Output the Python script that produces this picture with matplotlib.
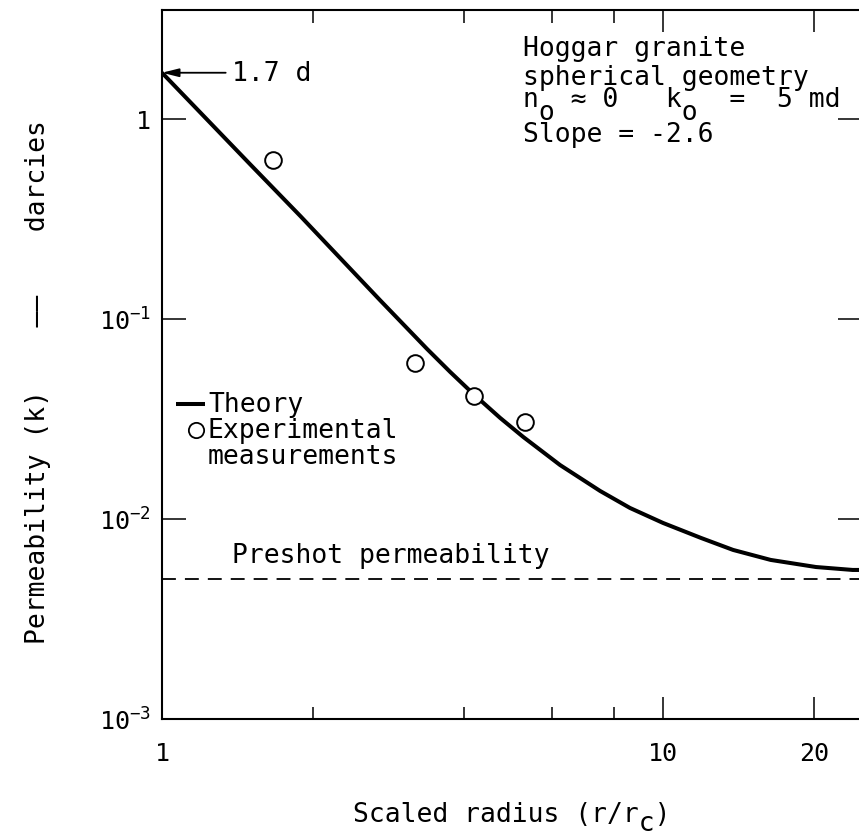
import matplotlib
matplotlib.use('Agg')
import matplotlib.pyplot as plt
from matplotlib.ticker import FixedLocator, FixedFormatter, NullFormatter, NullLocator

plt.rcParams['font.family'] = ['DejaVu Sans Mono', 'DejaVu Sans']
plt.rcParams['mathtext.default'] = 'regular'
plt.rcParams['lines.scale_dashes'] = False

# ---- data ----
theory_r = [1.0, 1.5, 1.89, 2.72, 3.38, 3.76, 4.18, 4.73, 5.26, 6.23, 7.49, 8.59,
            10.0, 11.9, 13.8, 16.4, 20.2, 23.9, 25.0]
theory_k = [1.70, 0.592, 0.326, 0.1245, 0.0708, 0.0543, 0.0422, 0.0320, 0.0257, 0.0186,
            0.0138, 0.01135, 0.00955, 0.00804, 0.00700, 0.00624, 0.00575, 0.00556, 0.00556]
exp_r = [1.666, 3.2, 4.2, 5.3]
exp_k = [0.624, 0.0603, 0.0412, 0.0305]
preshot_k = 0.005
peak_k = 1.7
x_major = [1, 10, 20]
x_major_labels = ['1', '10', '20']
x_minor = [2, 4, 6, 8]
y_major = [1e-3, 1e-2, 1e-1, 1]
y_major_labels = [r'$10^{-3}$', r'$10^{-2}$', r'$10^{-1}$', '1']

W, H = 859, 837
fig = plt.figure(figsize=(W / 100, H / 100), dpi=100)
left_px, right_px, top_px, bottom_px = 162, 862.4, 11, 720
ax = fig.add_axes([left_px / W, 1 - bottom_px / H, (right_px - left_px) / W, (bottom_px - top_px) / H])
ax.set_xscale('log')
ax.set_yscale('log')
ax.set_xlim(1, 25)
ax.set_ylim(1e-3, 3.5)

for s in ax.spines.values():
    s.set_linewidth(1.5)

ax.plot(theory_r, theory_k, color='black', lw=2.9, solid_capstyle='butt', solid_joinstyle='round', zorder=3)
ax.plot(exp_r, exp_k, linestyle='none', marker='o', ms=12, mfc='white', mec='black', mew=1.4, zorder=4)
ax.axhline(preshot_k, color='black', lw=1.3, dashes=(10, 6.5), zorder=2)

ax.xaxis.set_major_locator(FixedLocator(x_major))
ax.xaxis.set_major_formatter(FixedFormatter(x_major_labels))
ax.xaxis.set_minor_locator(FixedLocator(x_minor))
ax.xaxis.set_minor_formatter(NullFormatter())
ax.yaxis.set_major_locator(FixedLocator(y_major))
ax.yaxis.set_major_formatter(FixedFormatter(y_major_labels))
ax.yaxis.set_minor_locator(NullLocator())

ax.tick_params(axis='both', which='both', direction='in', top=True, right=True, width=1.1, labelsize=18)
ax.tick_params(axis='x', which='major', length=16, pad=16)
ax.tick_params(axis='x', which='minor', length=9)
ax.tick_params(axis='y', which='major', length=17, pad=8)

fs = 19

def yf(py):
    return (bottom_px - py) / (bottom_px - top_px)

def xf(px):
    return (px - left_px) / (right_px - left_px)

# axis labels (typewriter-style subscripts as lowered characters)
ax.text(0.5, yf(822), 'Scaled radius (r/r )', transform=ax.transAxes, fontsize=fs,
        ha='center', va='baseline')
ax.text(0.5, yf(831), '                  c ', transform=ax.transAxes, fontsize=fs,
        ha='center', va='baseline')
fig.text(38 / W, 1 - 382 / H, 'Permeability (k)    \u2014\u2014    darcies', rotation=90, fontsize=fs,
         ha='center', va='center')

# annotation for peak value
ax.annotate('1.7 d', xy=(1.0, peak_k), xytext=(xf(232), peak_k), textcoords=('axes fraction', 'data'),
            fontsize=fs, ha='left', va='center')
ax.annotate('', xy=(1.0, peak_k), xytext=(1.34, peak_k),
            arrowprops=dict(arrowstyle='-|>,head_length=1.0,head_width=0.25', color='black', lw=1.3,
                            shrinkA=0, shrinkB=0))

# info block
x0 = xf(523)
ax.text(x0, yf(56), 'Hoggar granite', transform=ax.transAxes, fontsize=fs, va='baseline')
ax.text(x0, yf(85), 'spherical geometry', transform=ax.transAxes, fontsize=fs, va='baseline')
ax.text(x0, yf(107), 'n  \u2248 0   k   =  5 md', transform=ax.transAxes, fontsize=fs, va='baseline')
ax.text(x0, yf(120), ' o        o', transform=ax.transAxes, fontsize=fs, va='baseline')
ax.text(x0, yf(142), 'Slope = -2.6', transform=ax.transAxes, fontsize=fs, va='baseline')

ax.text(xf(232), yf(563), 'Preshot permeability', transform=ax.transAxes, fontsize=fs, va='baseline')

# legend (hand placed like the original)
ax.plot([xf(176), xf(205)], [yf(405), yf(405)], transform=ax.transAxes, color='black', lw=2.9,
        solid_capstyle='butt', clip_on=False)
ax.text(xf(208), yf(405), 'Theory', transform=ax.transAxes, fontsize=fs, va='center')
ax.plot([xf(196)], [yf(431)], transform=ax.transAxes, marker='o', ms=11, mfc='white', mec='black', mew=1.3)
ax.text(xf(208), yf(431), 'Experimental', transform=ax.transAxes, fontsize=fs, va='center')
ax.text(xf(208), yf(457), 'measurements', transform=ax.transAxes, fontsize=fs, va='center')

fig.savefig('out.png', dpi=100, facecolor='white')
